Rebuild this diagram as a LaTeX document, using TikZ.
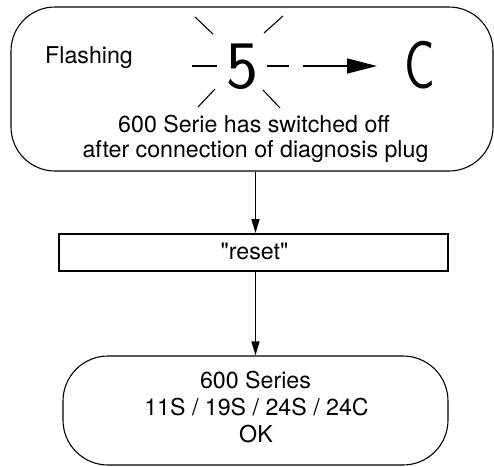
\documentclass[tikz,border=0pt]{standalone}
\usepackage{fontspec}
\setmainfont{TeX Gyre Heros}
\usepackage{graphicx}
\usetikzlibrary{arrows.meta}
\begin{document}
\begin{tikzpicture}[x=1pt,y=-1pt,
  txt/.style={font=\fontsize{23.2}{26}\selectfont, inner sep=0pt},
  big/.style={font=\fontsize{68}{68}\selectfont\sffamily, inner sep=0pt},
  rbox/.style={draw, line width=1.1pt, inner sep=0pt},
  sbox/.style={draw, line width=1.8pt, inner sep=0pt},
  arr/.style={line width=1.5pt, -{Triangle[length=14pt,width=8pt]}},
  ray/.style={line width=1.1pt}]
\useasboundingbox (0,0) rectangle (494,466);

% top box
\node[rbox, rounded corners=44pt, minimum width=482pt, minimum height=164pt] (top) at (252,89) {};
\node[txt, anchor=base west] (fl) at (45,63) {Flashing};
\node[big, anchor=base] (five) at (242,88) {5};
\node[big, anchor=base] (cc) at (420,88) {\scalebox{0.75}[1]{C}};
\draw[ray] (192,66) -- (217,66);
\draw[ray] (267,66) -- (289,66);
\draw[ray] (195,17) -- (213,34);
\draw[ray] (283,16) -- (264,33);
\draw[ray] (198,107) -- (215,89);
\draw[ray] (263,90) -- (280,108);
\coordinate (a1) at (303,66);
\coordinate (a2) at (377,66);
\draw[line width=1.5pt, -{Triangle[length=30pt,width=15pt]}] (a1) -- (a2);
\node[txt, anchor=base] (m1) at (254,132) {600 Serie has switched off};
\node[txt, anchor=base] (m2) at (255.5,157) {after connection of diagnosis plug};

% reset
\node[sbox, minimum width=389pt, minimum height=37pt] (reset) at (253.5,252.5) {};
\node[txt, anchor=base] (rt) at (254.5,259) {\textquotedbl reset\textquotedbl};

% bottom box
\node[rbox, rounded corners=45pt, minimum width=385pt, minimum height=109pt] (bot) at (255.5,410.5) {};
\node[txt, anchor=base] (b1) at (255.5,388) {600 Series};
\node[txt, anchor=base] (b2) at (256.5,415) {11S / 19S / 24S / 24C};
\node[txt, anchor=base] (b3) at (256,442) {OK};

\draw[arr] (top.south -| bot.north) -- (reset.north -| bot.north);
\draw[arr] (reset.south -| bot.north) -- (bot.north);
\end{tikzpicture}
\end{document}
